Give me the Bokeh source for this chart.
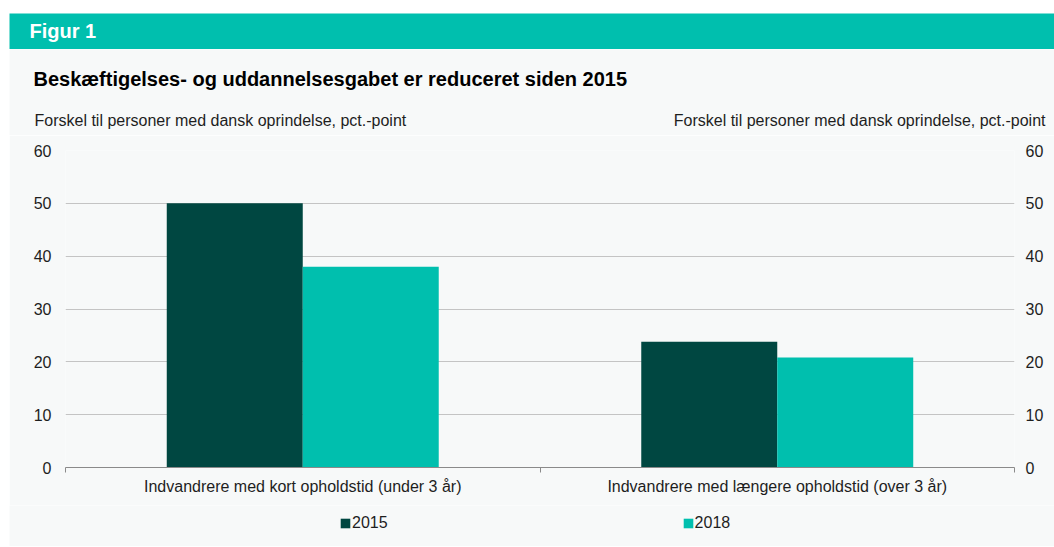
from bokeh.plotting import figure
from bokeh.models import (Label, LinearAxis, FixedTicker, Legend, LegendItem,
                          ColumnDataSource, Range1d, Grid)
from bokeh.embed import file_html
from bokeh.resources import INLINE
from bokeh.transform import dodge

# ---------------- data ----------------
categories = ["Indvandrere med kort opholdstid (under 3 år)",
              "Indvandrere med længere opholdstid (over 3 år)"]
series_names = ["2015", "2018"]
values_2015 = [50.0, 23.8]
values_2018 = [38.0, 20.8]
y_ticks = [0, 10, 20, 30, 40, 50, 60]
title_text = "Beskæftigelses- og uddannelsesgabet er reduceret siden 2015"
axis_title = "Forskel til personer med dansk oprindelse, pct.-point"
header_text = "Figur 1"

# ---------------- style ----------------
FONT = "Liberation Sans"
TEAL = "#00bfae"
DARK = "#004741"
PANEL = "#f7f9f9"
TXT = "#1e1e1e"
FS = "16px"
SERIES_COLORS = [DARK, TEAL]


def bare(height, color, margin):
    f = figure(width=1045, height=height, x_range=(0, 1), y_range=(0, 1),
               toolbar_location=None, output_backend="svg",
               x_axis_location=None, y_axis_location=None, min_border=0)
    f.grid.visible = False
    f.background_fill_color = color
    f.border_fill_color = color
    f.outline_line_color = None
    f.margin = margin
    return f


# header band
header = bare(36, TEAL, (13, 0, 0, 9))
header.add_layout(Label(x=20, y=19, x_units="screen", y_units="screen",
                        text=header_text, text_color="white", text_font=FONT,
                        text_font_style="bold", text_font_size="20px",
                        text_baseline="alphabetic"))

# title strip
strip = bare(86, PANEL, (0, 0, 0, 9))
strip.add_layout(Label(x=24, y=57, x_units="screen", y_units="screen",
                       text=title_text, text_font=FONT, text_font_style="bold",
                       text_font_size="20px", text_color="#000000",
                       text_baseline="alphabetic"))
strip.add_layout(Label(x=25, y=15, x_units="screen", y_units="screen",
                       text=axis_title, text_font=FONT, text_font_size=FS,
                       text_color=TXT, text_baseline="alphabetic"))
strip.add_layout(Label(x=1036, y=15, x_units="screen", y_units="screen",
                       text=axis_title, text_font=FONT, text_font_size=FS,
                       text_color=TXT, text_baseline="alphabetic",
                       text_align="right"))

# main chart
x_pos = [i + 0.5 for i in range(len(categories))]
source = ColumnDataSource(dict(x=x_pos, v2015=values_2015, v2018=values_2018))

p = figure(width=1045, height=370, x_range=Range1d(0, len(categories)),
           y_range=Range1d(y_ticks[0], y_ticks[-1]),
           toolbar_location=None, output_backend="svg",
           x_axis_location=None, y_axis_location=None,
           min_border_left=56, min_border_right=40,
           min_border_top=15, min_border_bottom=38)
p.margin = (0, 0, 0, 9)
p.background_fill_color = PANEL
p.border_fill_color = PANEL
p.outline_line_color = None
p.grid.visible = False

bw = 0.2866
r1 = p.vbar(x=dodge("x", -bw / 2), top="v2015", width=bw, source=source,
            fill_color=SERIES_COLORS[0], line_color=None)
r2 = p.vbar(x=dodge("x", bw / 2), top="v2018", width=bw, source=source,
            fill_color=SERIES_COLORS[1], line_color=None)

p.add_layout(Grid(dimension=1, ticker=FixedTicker(ticks=y_ticks),
                  grid_line_color="#c4c4c4", grid_line_width=1))

xaxis = LinearAxis(
    ticker=FixedTicker(ticks=x_pos, minor_ticks=list(range(len(categories) + 1))),
    major_label_overrides={x: c for x, c in zip(x_pos, categories)},
    axis_line_color="#8a8a8a", axis_line_width=1,
    major_tick_in=0, major_tick_out=0,
    minor_tick_in=0, minor_tick_out=5, minor_tick_line_color="#8a8a8a",
    major_label_standoff=5,
    major_label_text_font=FONT, major_label_text_font_size=FS,
    major_label_text_color=TXT)
p.add_layout(xaxis, "below")

for side, standoff in (("left", 14), ("right", 11)):
    ax = LinearAxis(ticker=FixedTicker(ticks=y_ticks),
                    axis_line_color=None, major_tick_line_color=None,
                    major_tick_in=0, major_tick_out=0,
                    minor_tick_line_color=None, major_label_standoff=standoff,
                    major_label_text_font=FONT, major_label_text_font_size=FS,
                    major_label_text_color=TXT)
    p.add_layout(ax, side)

# legend strip: zero-area swatch renderers that carry only the series colours
leg = bare(41, PANEL, (0, 0, 0, 9))
swatches = [leg.vbar(x=[0], top=[0], bottom=[0], width=0,
                     fill_color=c, line_color=None)
            for c in SERIES_COLORS]
legend = Legend(items=[LegendItem(label=n, renderers=[r], index=0)
                       for n, r in zip(series_names, swatches)],
                orientation="horizontal", location=(330, 14), spacing=294,
                padding=0, margin=0, glyph_width=12, glyph_height=12,
                label_standoff=1, background_fill_alpha=0, border_line_color=None,
                label_text_font=FONT, label_text_font_size=FS,
                label_text_color=TXT)
leg.add_layout(legend, "center")

open("out.html", "w").write(file_html([header, strip, p, leg], INLINE))
